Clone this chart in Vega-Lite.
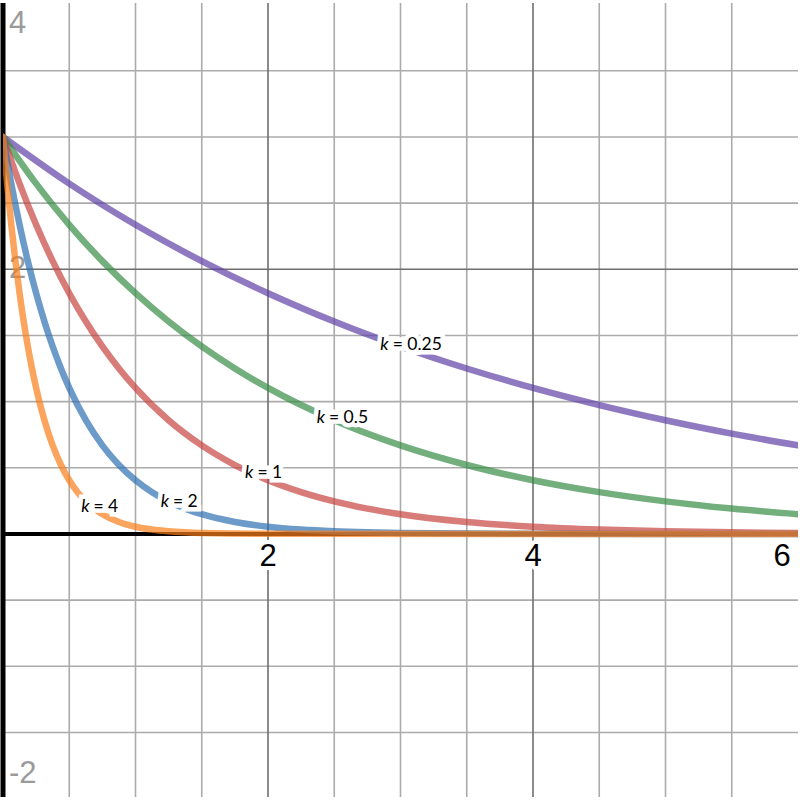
{
  "$schema": "https://vega.github.io/schema/vega-lite/v6.json",
  "width": 800,
  "height": 800,
  "autosize": {"type": "fit", "contains": "padding"},
  "padding": 0,
  "background": "white",
  "config": {"view": {"stroke": null}},
  "datasets": {
    "curves": [
      {"k": "0.25", "x": 0, "y": 3},
      {"k": "0.25", "x": 0.5, "y": 2.6475},
      {"k": "0.25", "x": 1, "y": 2.3364},
      {"k": "0.25", "x": 1.5, "y": 2.0619},
      {"k": "0.25", "x": 2, "y": 1.8196},
      {"k": "0.25", "x": 2.5, "y": 1.6058},
      {"k": "0.25", "x": 3, "y": 1.4171},
      {"k": "0.25", "x": 3.5, "y": 1.2506},
      {"k": "0.25", "x": 4, "y": 1.1036},
      {"k": "0.25", "x": 4.5, "y": 0.974},
      {"k": "0.25", "x": 5, "y": 0.8595},
      {"k": "0.25", "x": 5.5, "y": 0.7585},
      {"k": "0.25", "x": 6, "y": 0.6694},
      {"k": "0.5", "x": 0, "y": 3},
      {"k": "0.5", "x": 0.25, "y": 2.6475},
      {"k": "0.5", "x": 0.5, "y": 2.3364},
      {"k": "0.5", "x": 0.75, "y": 2.0619},
      {"k": "0.5", "x": 1, "y": 1.8196},
      {"k": "0.5", "x": 1.25, "y": 1.6058},
      {"k": "0.5", "x": 1.5, "y": 1.4171},
      {"k": "0.5", "x": 1.75, "y": 1.2506},
      {"k": "0.5", "x": 2, "y": 1.1036},
      {"k": "0.5", "x": 2.5, "y": 0.8595},
      {"k": "0.5", "x": 3, "y": 0.6694},
      {"k": "0.5", "x": 3.5, "y": 0.5213},
      {"k": "0.5", "x": 4, "y": 0.406},
      {"k": "0.5", "x": 4.5, "y": 0.3162},
      {"k": "0.5", "x": 5, "y": 0.2463},
      {"k": "0.5", "x": 5.5, "y": 0.1918},
      {"k": "0.5", "x": 6, "y": 0.1494},
      {"k": "1", "x": 0, "y": 3},
      {"k": "1", "x": 0.125, "y": 2.6475},
      {"k": "1", "x": 0.25, "y": 2.3364},
      {"k": "1", "x": 0.375, "y": 2.0619},
      {"k": "1", "x": 0.5, "y": 1.8196},
      {"k": "1", "x": 0.625, "y": 1.6058},
      {"k": "1", "x": 0.75, "y": 1.4171},
      {"k": "1", "x": 0.875, "y": 1.2506},
      {"k": "1", "x": 1, "y": 1.1036},
      {"k": "1", "x": 1.25, "y": 0.8595},
      {"k": "1", "x": 1.5, "y": 0.6694},
      {"k": "1", "x": 1.75, "y": 0.5213},
      {"k": "1", "x": 2, "y": 0.406},
      {"k": "1", "x": 2.25, "y": 0.3162},
      {"k": "1", "x": 2.5, "y": 0.2463},
      {"k": "1", "x": 2.75, "y": 0.1918},
      {"k": "1", "x": 3, "y": 0.1494},
      {"k": "1", "x": 3.5, "y": 0.0906},
      {"k": "1", "x": 4, "y": 0.0549},
      {"k": "1", "x": 4.5, "y": 0.0333},
      {"k": "1", "x": 5, "y": 0.0202},
      {"k": "1", "x": 5.5, "y": 0.0123},
      {"k": "1", "x": 6, "y": 0.0074},
      {"k": "2", "x": 0, "y": 3},
      {"k": "2", "x": 0.0625, "y": 2.6475},
      {"k": "2", "x": 0.125, "y": 2.3364},
      {"k": "2", "x": 0.1875, "y": 2.0619},
      {"k": "2", "x": 0.25, "y": 1.8196},
      {"k": "2", "x": 0.3125, "y": 1.6058},
      {"k": "2", "x": 0.375, "y": 1.4171},
      {"k": "2", "x": 0.4375, "y": 1.2506},
      {"k": "2", "x": 0.5, "y": 1.1036},
      {"k": "2", "x": 0.625, "y": 0.8595},
      {"k": "2", "x": 0.75, "y": 0.6694},
      {"k": "2", "x": 0.875, "y": 0.5213},
      {"k": "2", "x": 1, "y": 0.406},
      {"k": "2", "x": 1.125, "y": 0.3162},
      {"k": "2", "x": 1.25, "y": 0.2463},
      {"k": "2", "x": 1.375, "y": 0.1918},
      {"k": "2", "x": 1.5, "y": 0.1494},
      {"k": "2", "x": 1.75, "y": 0.0906},
      {"k": "2", "x": 2, "y": 0.0549},
      {"k": "2", "x": 2.25, "y": 0.0333},
      {"k": "2", "x": 2.5, "y": 0.0202},
      {"k": "2", "x": 2.75, "y": 0.0123},
      {"k": "2", "x": 3, "y": 0.0074},
      {"k": "2", "x": 4, "y": 0.001},
      {"k": "2", "x": 6, "y": 0.0},
      {"k": "4", "x": 0, "y": 3},
      {"k": "4", "x": 0.03125, "y": 2.6475},
      {"k": "4", "x": 0.0625, "y": 2.3364},
      {"k": "4", "x": 0.09375, "y": 2.0619},
      {"k": "4", "x": 0.125, "y": 1.8196},
      {"k": "4", "x": 0.15625, "y": 1.6058},
      {"k": "4", "x": 0.1875, "y": 1.4171},
      {"k": "4", "x": 0.21875, "y": 1.2506},
      {"k": "4", "x": 0.25, "y": 1.1036},
      {"k": "4", "x": 0.3125, "y": 0.8595},
      {"k": "4", "x": 0.375, "y": 0.6694},
      {"k": "4", "x": 0.4375, "y": 0.5213},
      {"k": "4", "x": 0.5, "y": 0.406},
      {"k": "4", "x": 0.5625, "y": 0.3162},
      {"k": "4", "x": 0.625, "y": 0.2463},
      {"k": "4", "x": 0.6875, "y": 0.1918},
      {"k": "4", "x": 0.75, "y": 0.1494},
      {"k": "4", "x": 0.875, "y": 0.0906},
      {"k": "4", "x": 1, "y": 0.0549},
      {"k": "4", "x": 1.125, "y": 0.0333},
      {"k": "4", "x": 1.25, "y": 0.0202},
      {"k": "4", "x": 1.375, "y": 0.0123},
      {"k": "4", "x": 1.5, "y": 0.0074},
      {"k": "4", "x": 2, "y": 0.001},
      {"k": "4", "x": 6, "y": 0.0}
    ],
    "labels": [
      {"k": "0.25", "x": 2.918, "y": 1.425, "rest": "= 0.25"},
      {"k": "0.5", "x": 2.4375, "y": 0.878, "rest": "= 0.5"},
      {"k": "1", "x": 1.8975, "y": 0.4575, "rest": "= 1"},
      {"k": "2", "x": 1.26, "y": 0.24, "rest": "= 2"},
      {"k": "4", "x": 0.66, "y": 0.2025, "rest": "= 4"}
    ],
    "xticks": [
      {"x": 2, "label": "2"},
      {"x": 4, "label": "4"},
      {"x": 5.88, "label": "6"}
    ],
    "yticks": [
      {"y": 3.855, "label": "4"},
      {"y": 2, "label": "2"},
      {"y": -1.81, "label": "-2"}
    ],
    "xminor": [
      {"v": 0.5}, {"v": 1}, {"v": 1.5}, {"v": 2.5}, {"v": 3}, {"v": 3.5},
      {"v": 4.5}, {"v": 5}, {"v": 5.5}
    ],
    "xmajor": [{"v": 2}, {"v": 4}],
    "yminor": [
      {"v": -1.5}, {"v": -1}, {"v": -0.5}, {"v": 0.5}, {"v": 1}, {"v": 1.5},
      {"v": 2.5}, {"v": 3}, {"v": 3.5}
    ],
    "ymajor": [{"v": 2}]
  },
  "layer": [
    {
      "data": {"name": "xminor"},
      "mark": {"type": "rule", "color": "#ababab", "strokeWidth": 1.6},
      "encoding": {
        "x": {"field": "v", "type": "quantitative", "scale": {"domain": [0, 6], "nice": false, "zero": false}, "axis": null}
      }
    },
    {
      "data": {"name": "yminor"},
      "mark": {"type": "rule", "color": "#ababab", "strokeWidth": 1.6},
      "encoding": {
        "y": {"field": "v", "type": "quantitative", "scale": {"domain": [-1.9875, 4.0125], "nice": false, "zero": false}, "axis": null}
      }
    },
    {
      "data": {"name": "xmajor"},
      "mark": {"type": "rule", "color": "#6e6e6e", "strokeWidth": 1.6},
      "encoding": {
        "x": {"field": "v", "type": "quantitative", "axis": null}
      }
    },
    {
      "data": {"name": "ymajor"},
      "mark": {"type": "rule", "color": "#6e6e6e", "strokeWidth": 1.6},
      "encoding": {
        "y": {"field": "v", "type": "quantitative", "axis": null}
      }
    },
    {
      "data": {"name": "yticks"},
      "mark": {"type": "text", "align": "left", "baseline": "middle", "dx": 6, "font": "Liberation Sans", "fontSize": 31, "fill": "#9a9a9a"},
      "encoding": {
        "x": {"datum": 0, "type": "quantitative", "axis": null},
        "y": {"field": "y", "type": "quantitative", "axis": null},
        "text": {"field": "label"}
      }
    },
    {
      "data": {"values": [{}]},
      "mark": {"type": "rule", "color": "black", "strokeWidth": 4},
      "encoding": {"y": {"datum": 0, "type": "quantitative", "axis": null}}
    },
    {
      "data": {"values": [{}]},
      "mark": {"type": "rule", "color": "black", "strokeWidth": 5},
      "encoding": {"x": {"datum": 0, "type": "quantitative", "axis": null}}
    },
    {
      "data": {"name": "curves"},
      "mark": {"type": "line", "interpolate": "monotone", "strokeWidth": 6.5, "opacity": 0.7, "clip": true, "strokeCap": "round"},
      "encoding": {
        "x": {"field": "x", "type": "quantitative", "axis": null},
        "y": {"field": "y", "type": "quantitative", "axis": null},
        "color": {
          "field": "k", "type": "nominal",
          "scale": {"domain": ["0.25", "0.5", "1", "2", "4"], "range": ["#6042a6", "#388c46", "#c74440", "#2d70b3", "#fa7e19"]},
          "legend": null
        }
      }
    },
    {
      "data": {"name": "xticks"},
      "mark": {"type": "text", "align": "center", "baseline": "middle", "dy": 23, "font": "Liberation Sans", "fontSize": 31, "fill": "white", "stroke": "white", "strokeWidth": 8, "strokeJoin": "round"},
      "encoding": {
        "x": {"field": "x", "type": "quantitative", "axis": null},
        "y": {"datum": 0, "type": "quantitative", "axis": null},
        "text": {"field": "label"}
      }
    },
    {
      "data": {"name": "xticks"},
      "mark": {"type": "text", "align": "center", "baseline": "middle", "dy": 23, "font": "Liberation Sans", "fontSize": 31, "fill": "black"},
      "encoding": {
        "x": {"field": "x", "type": "quantitative", "axis": null},
        "y": {"datum": 0, "type": "quantitative", "axis": null},
        "text": {"field": "label"}
      }
    },
    {
      "data": {"name": "labels"},
      "mark": {"type": "text", "align": "right", "baseline": "middle", "dx": -1, "font": "Lato", "fontStyle": "italic", "fontSize": 17.5, "fill": "white", "stroke": "white", "strokeWidth": 9, "strokeJoin": "miter"},
      "encoding": {
        "x": {"field": "x", "type": "quantitative", "axis": null},
        "y": {"field": "y", "type": "quantitative", "axis": null},
        "text": {"value": "k"}
      }
    },
    {
      "data": {"name": "labels"},
      "mark": {"type": "text", "align": "left", "baseline": "middle", "dx": 3, "font": "Lato", "fontSize": 17.5, "fill": "white", "stroke": "white", "strokeWidth": 9, "strokeJoin": "miter"},
      "encoding": {
        "x": {"field": "x", "type": "quantitative", "axis": null},
        "y": {"field": "y", "type": "quantitative", "axis": null},
        "text": {"field": "rest"}
      }
    },
    {
      "data": {"name": "labels"},
      "mark": {"type": "text", "align": "right", "baseline": "middle", "dx": -1, "font": "Lato", "fontStyle": "italic", "fontSize": 17.5, "fill": "black"},
      "encoding": {
        "x": {"field": "x", "type": "quantitative", "axis": null},
        "y": {"field": "y", "type": "quantitative", "axis": null},
        "text": {"value": "k"}
      }
    },
    {
      "data": {"name": "labels"},
      "mark": {"type": "text", "align": "left", "baseline": "middle", "dx": 3, "font": "Lato", "fontSize": 17.5, "fill": "black"},
      "encoding": {
        "x": {"field": "x", "type": "quantitative", "axis": null},
        "y": {"field": "y", "type": "quantitative", "axis": null},
        "text": {"field": "rest"}
      }
    }
  ]
}
